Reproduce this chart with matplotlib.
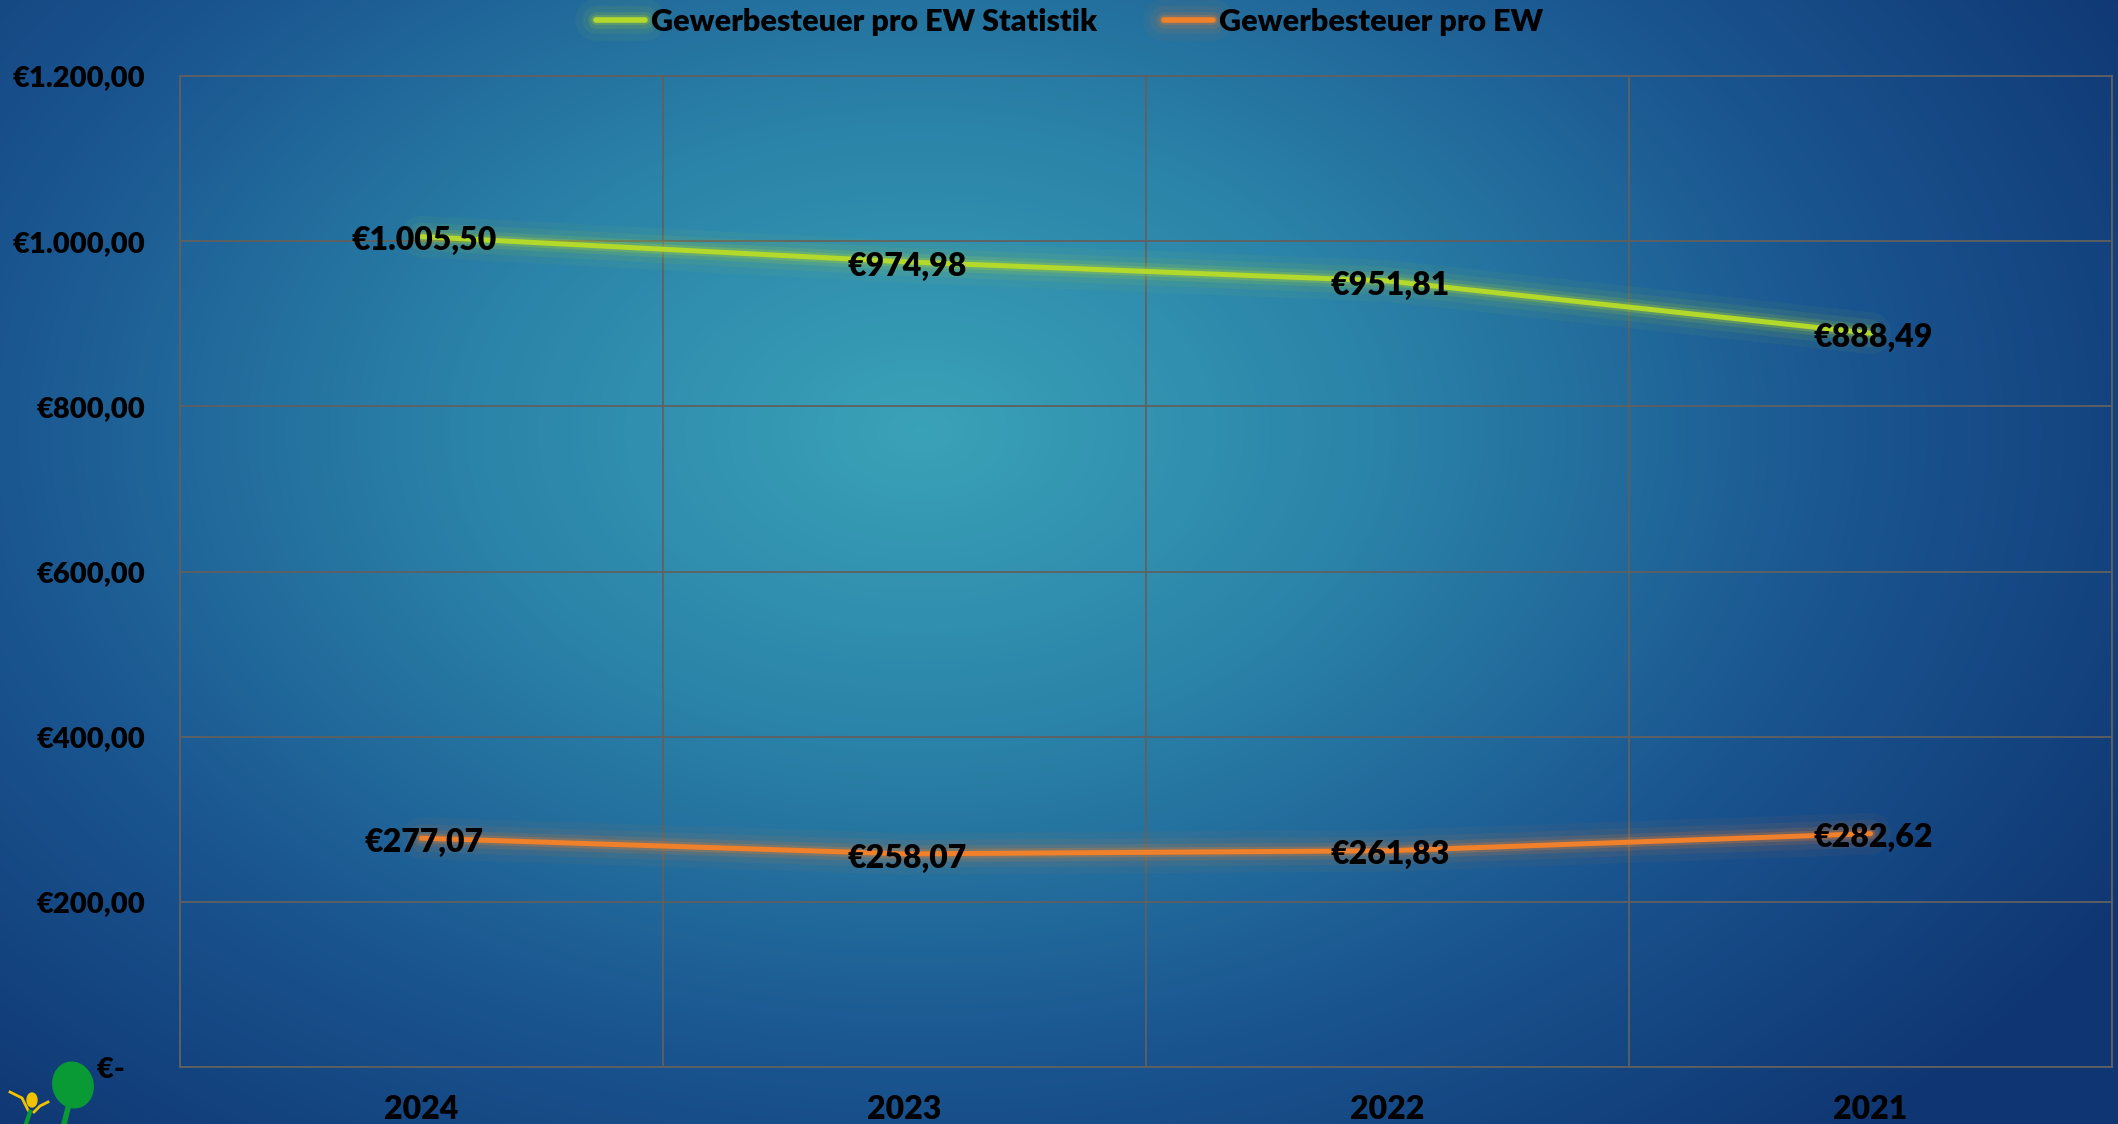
import numpy as np
import matplotlib
matplotlib.use("Agg")
import matplotlib.pyplot as plt
import matplotlib.patheffects as pe
from matplotlib.colors import LinearSegmentedColormap
from matplotlib.patches import Ellipse

# data
years = ["2024", "2023", "2022", "2021"]
statistik = [1005.50, 974.98, 951.81, 888.49]
pro_ew = [277.07, 258.07, 261.83, 282.62]
ytick_vals = [0, 200, 400, 600, 800, 1000, 1200]
ytick_labels = ["€-   ", "€200,00", "€400,00", "€600,00", "€800,00", "€1.000,00", "€1.200,00"]

GREEN = "#b3d92b"
ORANGE = "#f0802a"
FONT = ["Lato", "DejaVu Sans"]
plt.rcParams["font.family"] = FONT
plt.rcParams["font.weight"] = "heavy"

fig = plt.figure(figsize=(21.18, 11.24), dpi=100)

# radial background
bg = fig.add_axes([0, 0, 1, 1], zorder=-10)
W, H = 2118, 1124
xx, yy = np.meshgrid(np.arange(W), np.arange(H))
t = np.sqrt(((xx - 920) / 1400.0) ** 2 + ((yy - 430) / 950.0) ** 2)
t = np.clip(t, 0, 1)
cmap = LinearSegmentedColormap.from_list("bg", ["#3aa2b8", "#2a82a8", "#1a5590", "#0f3672"])
bg.imshow(t, cmap=cmap, aspect="auto", extent=[0, W, H, 0], vmin=0, vmax=1)
bg.set_xlim(0, W); bg.set_ylim(H, 0)
bg.axis("off")

# little logo bottom-left
bg.add_patch(Ellipse((73, 1085), 40, 46, angle=-15, color="#0a9a35"))
bg.plot([70, 64], [1100, 1124], color="#0a9a35", lw=4)
bg.add_patch(Ellipse((32, 1100), 10, 14, color="#f2c200"))
bg.plot([10, 22, 28], [1092, 1098, 1110], color="#f2c200", lw=2)
bg.plot([48, 40, 34], [1102, 1106, 1112], color="#f2c200", lw=2)
bg.plot([30, 26], [1112, 1124], color="#0a9a35", lw=3)

ax = fig.add_axes([180 / W, 1 - 1067 / H, (2112 - 180) / W, (1067 - 76) / H])
ax.patch.set_alpha(0)

x = np.arange(len(years))

def glow(c):
    return [pe.Stroke(linewidth=30, foreground=c, alpha=0.05),
            pe.Stroke(linewidth=20, foreground=c, alpha=0.08),
            pe.Stroke(linewidth=12, foreground=c, alpha=0.14),
            pe.Stroke(linewidth=7, foreground=c, alpha=0.25), pe.Normal()]

ax.plot(x, statistik, color=GREEN, lw=3.6, label="Gewerbesteuer pro EW Statistik",
        path_effects=glow(GREEN), solid_capstyle="round", zorder=3)
ax.plot(x, pro_ew, color=ORANGE, lw=3.6, label="Gewerbesteuer pro EW",
        path_effects=glow(ORANGE), solid_capstyle="round", zorder=3)

def fmt(v):
    s = f"{v:,.2f}".replace(",", "X").replace(".", ",").replace("X", ".")
    return "€" + s

for series in (statistik, pro_ew):
    for xi, v in zip(x, series):
        ax.annotate(fmt(v), (xi, v), xytext=(2, -3), textcoords="offset points",
                    ha="center", va="center", fontsize=23, fontweight="heavy",
                    color="black", zorder=5)

ax.set_xlim(-0.5, len(years) - 0.5)
ax.set_ylim(0, 1200)
ax.set_xticks(x)
ax.set_xticklabels(years, fontsize=23, fontweight="heavy")
ax.set_xticks(np.arange(-0.5, len(years), 1), minor=True)
ax.set_yticks(ytick_vals)
ax.set_yticklabels(ytick_labels, fontsize=21, fontweight="heavy")
ax.tick_params(axis="x", which="both", length=0, pad=20)
ax.tick_params(axis="y", length=0, pad=25)
ax.grid(True, axis="y", which="major", color="#606060", lw=1.3)
ax.grid(True, axis="x", which="minor", color="#606060", lw=1.3)
for s in ax.spines.values():
    s.set_color("#606060")
    s.set_linewidth(1.3)

leg = fig.legend(loc="center", bbox_to_anchor=(0.505, 1 - 22 / H), ncol=2, frameon=False,
                 fontsize=22, handlelength=1.6, handletextpad=0.18, columnspacing=2.2)
for t_ in leg.get_texts():
    t_.set_fontweight("heavy")
for h in leg.get_lines():
    h.set_linewidth(4)

fig.savefig("out.png", dpi=100)
